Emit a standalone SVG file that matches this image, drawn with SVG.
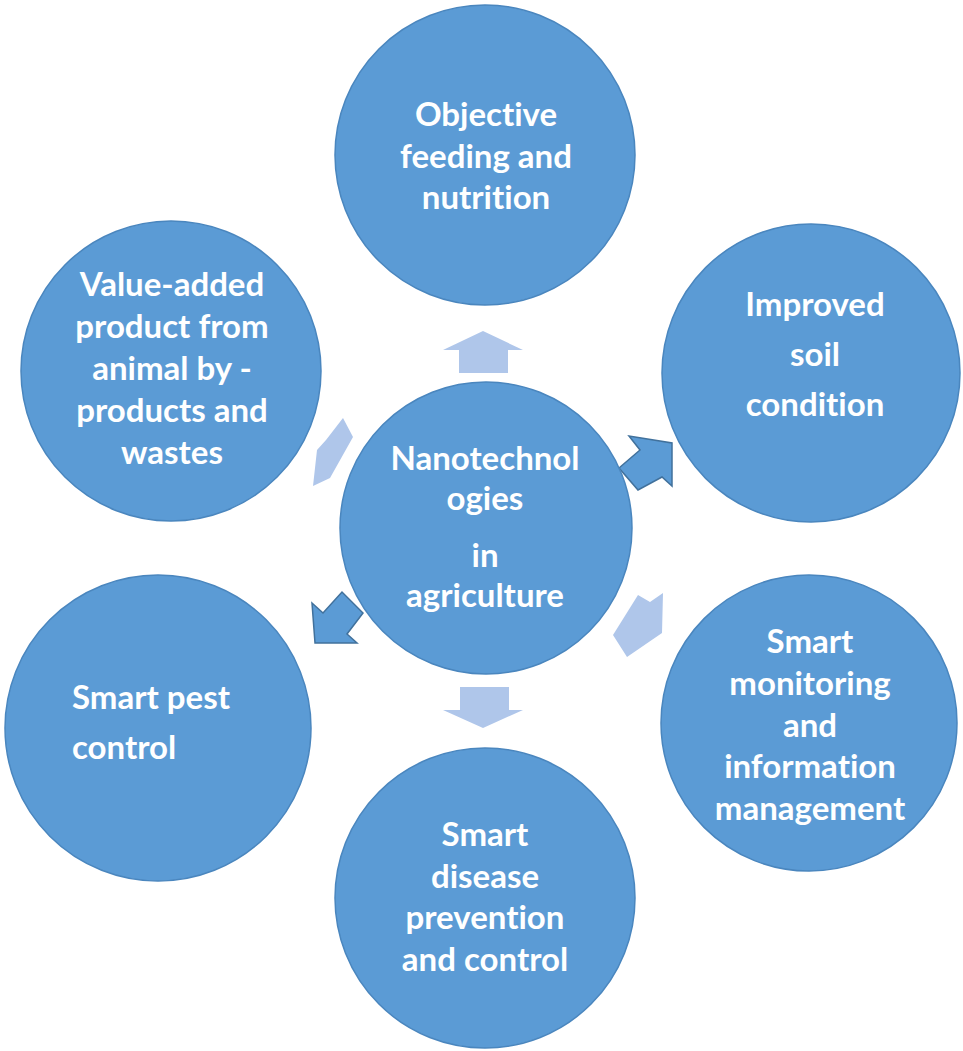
<svg xmlns="http://www.w3.org/2000/svg" width="963" height="1051" viewBox="0 0 963 1051">
<style>
.c{fill:#5B9BD5;stroke:#4A86BE;stroke-width:1.5}
.t{font-family:Lato,"Liberation Sans",sans-serif;font-weight:bold;font-size:33px;fill:#FFFFFF;text-anchor:middle;font-variant-ligatures:none;font-feature-settings:"liga" 0,"clig" 0}
.tl{text-anchor:start}
.dk{fill:#5B9BD5;stroke:#41719C;stroke-width:1.5}
.lt{fill:#AFC6EA}
</style>
<rect width="963" height="1051" fill="#FFFFFF"/>
<g id="connectors">
<polygon class="lt" points="483,331 523,350 508,350 508,373 459,373 459,350 443,350"/>
<polygon class="lt" points="460,687 509,687 509,710 523,710 483,728 443,710 460,710"/>
<polygon class="dk" points="672,443 672,486 662,477 638,490 619,468 640,450 629,436"/>
<polygon class="dk" points="315,643 312,603 323,613 342,592 363,613 347,634 357,643"/>
<polygon class="lt" points="638,595 650,602 663,593 662,633 627,657 613,635"/>
<polygon class="lt" points="343,418 353,437 330,478 313,486 317,450 326,440"/>
</g>
<g id="n-objective">
<circle class="c" cx="485" cy="155" r="150"/>
<text class="t" x="486" y="126">Objective</text>
<text class="t" x="486" y="168">feeding and</text>
<text class="t" x="486" y="209">nutrition</text>
</g>
<g id="n-soil">
<circle class="c" cx="811" cy="373" r="149"/>
<text class="t" x="815" y="316">Improved</text>
<text class="t" x="815" y="366">soil</text>
<text class="t" x="815" y="416">condition</text>
</g>
<g id="n-value">
<circle class="c" cx="171" cy="371" r="150"/>
<text class="t" x="172" y="296">Value-added</text>
<text class="t" x="172" y="338">product from</text>
<text class="t" x="172" y="380">animal by -</text>
<text class="t" x="172" y="422">products and</text>
<text class="t" x="172" y="464">wastes</text>
</g>
<g id="n-center">
<circle class="c" cx="486" cy="528" r="146"/>
<text class="t" x="485" y="470">Nanotechnol</text>
<text class="t" x="485" y="510">ogies</text>
<text class="t" x="485" y="567">in</text>
<text class="t" x="485" y="607">agriculture</text>
</g>
<g id="n-monitoring">
<circle class="c" cx="809" cy="723" r="148"/>
<text class="t" x="810" y="653">Smart</text>
<text class="t" x="810" y="695">monitoring</text>
<text class="t" x="810" y="737">and</text>
<text class="t" x="810" y="778">information</text>
<text class="t" x="810" y="820">management</text>
</g>
<g id="n-pest">
<circle class="c" cx="158" cy="728" r="153"/>
<text class="t tl" x="72" y="709">Smart pest</text>
<text class="t tl" x="72" y="759">control</text>
</g>
<g id="n-disease">
<circle class="c" cx="485" cy="898" r="150"/>
<text class="t" x="485" y="846">Smart</text>
<text class="t" x="485" y="888">disease</text>
<text class="t" x="485" y="929">prevention</text>
<text class="t" x="485" y="971">and control</text>
</g>
</svg>
